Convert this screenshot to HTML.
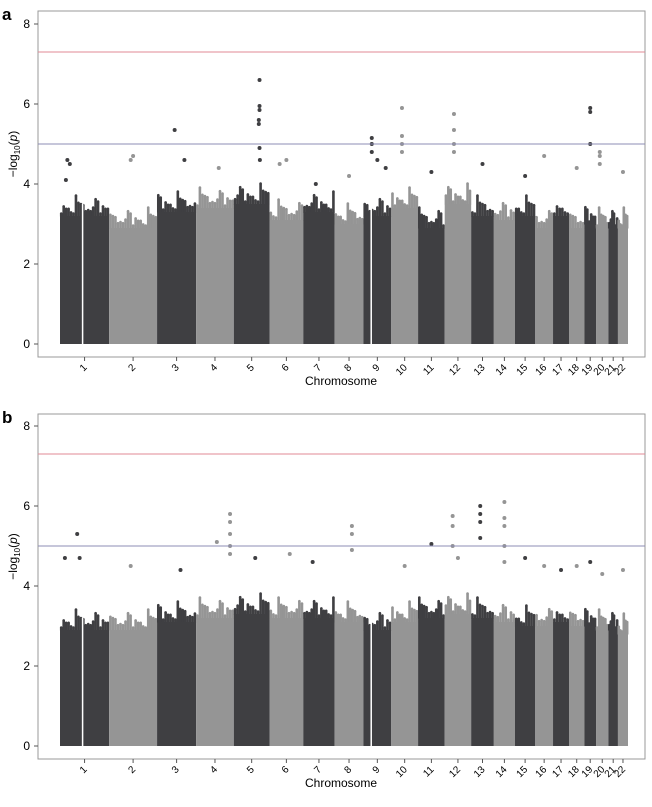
<!DOCTYPE html>
<html><head><meta charset="utf-8"><style>
body{margin:0;background:#fff;font-family:"Liberation Sans",Arial,sans-serif}
svg text{font-family:"Liberation Sans",Arial,sans-serif}
</style></head><body>
<svg id="s" width="652" height="802" xmlns="http://www.w3.org/2000/svg"></svg>
<script>
const chroms=["1","2","3","4","5","6","7","8","9","10","11","12","13","14","15","16","17","18","19","20","21","22"];
const chromLenMb=[249,243,198,191,181,171,159,146,141,136,135,134,115,107,103,90,81,78,59,63,48,51];
const bulkA=[3.2,2.9,3.3,3.4,3.5,3.1,3.3,3.0,3.2,3.4,2.9,3.5,3.2,3.1,3.2,2.9,3.2,2.9,3.0,2.9,2.9,2.9];
const bulkB=[2.9,2.9,3.1,3.2,3.3,3.2,3.2,3.1,2.9,3.1,3.2,3.3,3.2,3.1,3.0,3.0,3.1,3.0,3.0,2.9,2.9,2.8];
// hits: [chromIndex, fraction along chromosome, -log10 p]
const hitsA=[[0,0.15,4.6],[0,0.2,4.5],[0,0.12,4.1],[1,0.5,4.7],[1,0.45,4.6],[2,0.45,5.35],[2,0.7,4.6],[3,0.6,4.4],[4,0.72,6.6],[4,0.72,5.95],[4,0.72,5.85],[4,0.7,5.6],[4,0.7,5.5],[4,0.72,4.9],[4,0.73,4.6],[5,0.5,4.6],[5,0.3,4.5],[6,0.4,4.0],[7,0.5,4.2],[8,0.3,5.15],[8,0.3,5.0],[8,0.3,4.8],[8,0.5,4.6],[8,0.8,4.4],[9,0.4,5.9],[9,0.4,5.2],[9,0.4,5.0],[9,0.4,4.8],[10,0.5,4.3],[11,0.35,5.75],[11,0.35,5.35],[11,0.35,5.0],[11,0.35,4.8],[12,0.5,4.5],[14,0.5,4.2],[15,0.5,4.7],[17,0.5,4.4],[18,0.5,5.9],[18,0.5,5.8],[18,0.5,5.0],[19,0.3,4.8],[19,0.3,4.7],[19,0.3,4.5],[21,0.5,4.3]];
const hitsB=[[0,0.1,4.7],[0,0.35,5.3],[0,0.4,4.7],[1,0.45,4.5],[2,0.6,4.4],[3,0.55,5.1],[3,0.9,5.8],[3,0.9,5.6],[3,0.9,5.3],[3,0.9,5.0],[3,0.9,4.8],[4,0.6,4.7],[5,0.6,4.8],[6,0.3,4.6],[7,0.6,5.5],[7,0.6,5.3],[7,0.6,4.9],[9,0.5,4.5],[10,0.5,5.05],[11,0.5,4.7],[11,0.3,5.75],[11,0.3,5.5],[11,0.3,5.0],[12,0.4,6.0],[12,0.4,5.8],[12,0.4,5.6],[12,0.4,5.2],[13,0.5,6.1],[13,0.5,5.7],[13,0.5,5.5],[13,0.5,5.0],[13,0.5,4.6],[14,0.5,4.7],[15,0.5,4.5],[16,0.5,4.4],[17,0.5,4.5],[18,0.5,4.6],[19,0.5,4.3],[21,0.5,4.4]];
const yTicks=[0,2,4,6,8];
const tailOffsets=[0.1,0.35,0.2,0.55,0.15,0.4,0.7,0.25,0.5,0.1,0.3,0.6,0.2,0.45,0.85,0.3];
const sigLine=7.3, sugLine=5;
const NS="http://www.w3.org/2000/svg";
const svg=document.getElementById('s');
function mk(t,a,p){const e=document.createElementNS(NS,t);for(const k in a)e.setAttribute(k,a[k]);(p||svg).appendChild(e);return e;}
const total=chromLenMb.reduce((a,b)=>a+b,0);
const cum=[];let c=0;chromLenMb.forEach(l=>{cum.push(c);c+=l;});
function panel(label,top,y0,bulk,hits,pname){
  const g=mk('g',{});
  
  
  const left=38,right=645,bottom=y0+13;
  const x=(mb)=>60+(mb/total)*568;
  const y=(v)=>y0-v*40;
  const lab=mk('text',{x:2,y:top+9,'font-size':17,'font-weight':'bold'},g);lab.textContent=label;
  
  const box=mk('rect',{x:left,y:top,width:right-left,height:bottom-top,fill:'none',stroke:'#999','stroke-width':1},g);
  
  chroms.forEach((ch,i)=>{
    const col=i%2==0?'#3f3f42':'#959595';
    const x1=x(cum[i]),x2=x(cum[i]+chromLenMb[i]);
    const r=mk('rect',{x:x1,y:y(bulk[i]),width:x2-x1,height:y(0)-y(bulk[i]),fill:col},g);
    
    const n=Math.max(6,Math.round((x2-x1)/2.5));
    for(let k=0;k<n;k++){
      const px=x1+(x2-x1)*(k+0.5)/n;
      const off=tailOffsets[(k*5+i*3)%tailOffsets.length];
      mk('circle',{cx:px,cy:y(bulk[i]+off*0.6),r:1.3,fill:col},g);
      mk('rect',{x:px-1.3,y:y(bulk[i]+off*0.6),width:2.6,height:y(bulk[i])-y(bulk[i]+off*0.6)+0.5,fill:col},g);
    }
    const tx=(x1+x2)/2;
    mk('line',{x1:tx,x2:tx,y1:bottom,y2:bottom+4,stroke:'#555'},g);
    const t=mk('text',{x:tx+3,y:bottom+11,'font-size':10,'text-anchor':'end',transform:`rotate(-45 ${tx+3} ${bottom+11})`},g);
    t.textContent=ch;
  });
  [[0,0.46],[8,0.28]].forEach(([i,f])=>{const gx=x(cum[i]+chromLenMb[i]*f);mk('rect',{x:gx-0.75,y:y(bulk[i]+0.3),width:1.5,height:y(0)-y(bulk[i]+0.3)+1,fill:'#fff'},g);});
  hits.forEach(h=>{
    const col=h[0]%2==0?'#3f3f42':'#959595';
    const p=mk('circle',{cx:x(cum[h[0]]+chromLenMb[h[0]]*h[1]),cy:y(h[2]),r:2,fill:col},g);
    
  });
  const rl=mk('line',{x1:left,x2:right,y1:y(sigLine),y2:y(sigLine),stroke:'#e08a95','stroke-width':1},g);
  
  const bl=mk('line',{x1:left,x2:right,y1:y(sugLine),y2:y(sugLine),stroke:'#8c8cb4','stroke-width':1},g);
  
  yTicks.forEach(v=>{
    mk('line',{x1:left-4,x2:left,y1:y(v),y2:y(v),stroke:'#555'},g);
    const t=mk('text',{x:left-8,y:y(v)+4,'font-size':12,'text-anchor':'end'},g);t.textContent=v;
    
  });
  const xt=mk('text',{x:341,y:bottom+28,'font-size':12,'text-anchor':'middle'},g);xt.textContent='Chromosome';
  
  const yc=(top+bottom)/2-30;
  const yt=mk('text',{x:0,y:0,'font-size':12,'text-anchor':'middle',transform:`translate(17 ${yc}) rotate(-90)`},g);
  yt.innerHTML='−log<tspan font-size="8" dy="3">10</tspan><tspan dy="-3">(</tspan><tspan font-style="italic">p</tspan>)';
  
}
panel('a',11,344,bulkA,hitsA,'panel-a');
panel('b',414,746,bulkB,hitsB,'panel-b');
</script>
</body></html>
